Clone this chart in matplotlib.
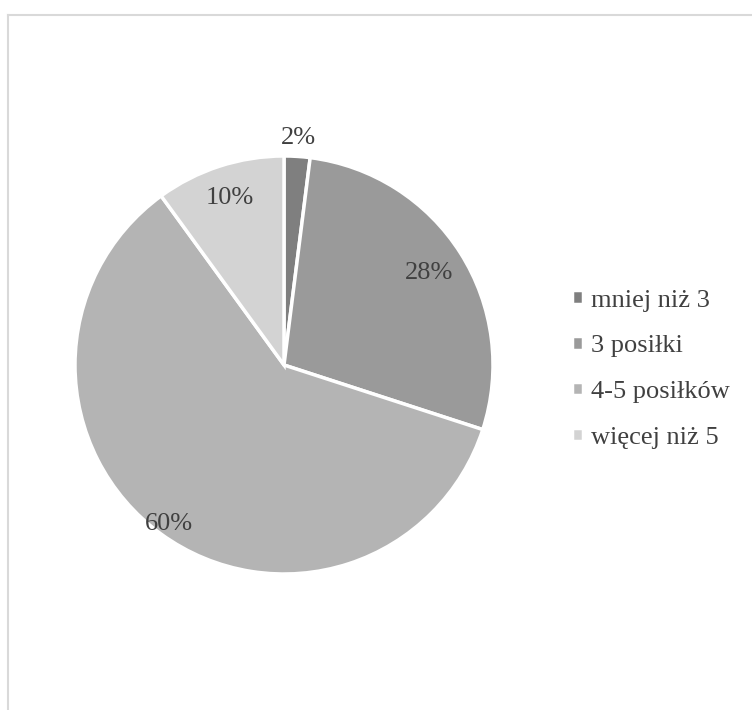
import numpy as np
import matplotlib.pyplot as plt
from matplotlib.lines import Line2D

# dane
kategorie = ['mniej niż 3', '3 posiłki', '4-5 posiłków', 'więcej niż 5']
wartosci = [2, 28, 60, 10]
kolory = ['#7f7f7f', '#9a9a9a', '#b4b4b4', '#d3d3d3']
odleglosc_etykiet = [1.09, 0.82, 0.94, 0.84]

plt.rcParams['font.family'] = ['Liberation Serif', 'DejaVu Serif']
kolor_tekstu = '#404040'

fig = plt.figure(figsize=(7.52, 7.10), dpi=100)
W, H = 752, 710

# obszar koła: środek (284, 365), promień 209 px
cx, cy, r = 284, 365, 209
ax = fig.add_axes([(cx - r) / W, (H - cy - r) / H, 2 * r / W, 2 * r / H])

wedges, _ = ax.pie(wartosci, colors=kolory, startangle=90, counterclock=False,
                   wedgeprops=dict(edgecolor='white', linewidth=2.5))
ax.set_xlim(-1, 1)
ax.set_ylim(-1, 1)
ax.set_aspect('equal')
ax.axis('off')

for w, v, d in zip(wedges, wartosci, odleglosc_etykiet):
    kat = np.deg2rad((w.theta1 + w.theta2) / 2)
    ax.text(d * np.cos(kat), d * np.sin(kat), f'{v}%', ha='center', va='center',
            fontsize=19, color=kolor_tekstu)

fig.legend(wedges, kategorie, loc='center left', bbox_to_anchor=(0.729, 0.48),
           frameon=False, fontsize=19, labelcolor=kolor_tekstu,
           handlelength=0.42, handleheight=0.42, handletextpad=0.3, labelspacing=0.9)

# ramka wykresu
ramka = '#d9d9d9'
fig.add_artist(Line2D([8 / W, 8 / W], [0, 1 - 15 / H], color=ramka, linewidth=1.5,
                      transform=fig.transFigure))
fig.add_artist(Line2D([8 / W, 1], [1 - 15 / H, 1 - 15 / H], color=ramka, linewidth=1.5,
                      transform=fig.transFigure))

fig.savefig('out.png', dpi=100, facecolor='white')
